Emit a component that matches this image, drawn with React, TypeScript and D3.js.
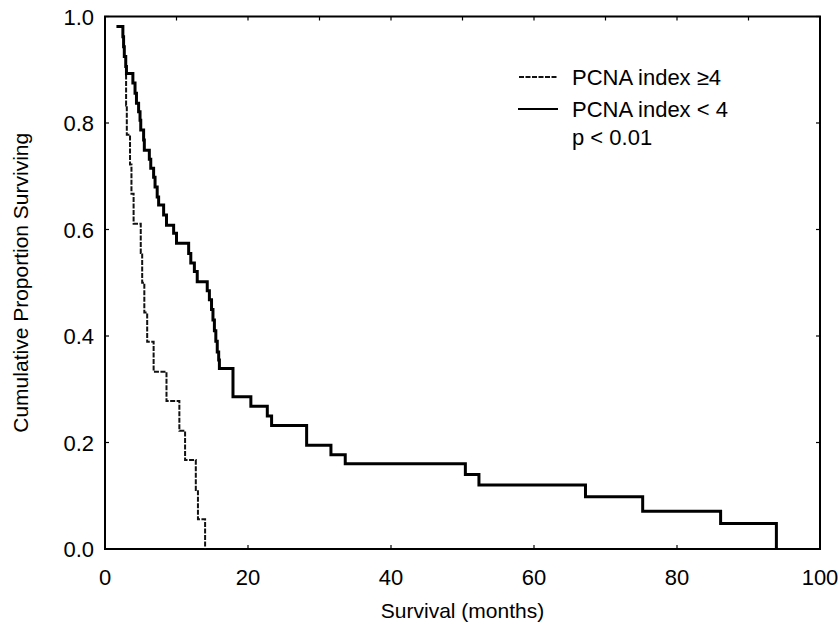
import React from "react";
import * as d3 from "d3";

const xTicks = [0, 20, 40, 60, 80, 100];
const xTopTicks = [10, 20, 30, 40, 50, 60, 70, 80, 90];
const yTicks = [0, 0.2, 0.4, 0.6, 0.8, 1.0];

// PCNA index < 4 (solid)
const solidTimes = [1.6, 2.5, 2.6, 2.7, 2.9, 3.0, 3.9, 4.2, 4.4, 4.7, 4.9, 5.0, 5.4, 5.5, 6.2, 6.4, 6.8, 7.0, 7.3, 7.5, 8.2, 8.6, 9.6, 10.0, 11.7, 12.0, 12.5, 12.9, 14.3, 14.6, 14.9, 15.1, 15.3, 15.5, 15.7, 15.9, 16.0, 17.9, 20.4, 22.7, 23.3, 28.2, 31.6, 33.6, 50.4, 52.3, 67.2, 75.2, 86.1, 93.9];
const solidSurv = [0.981, 0.962, 0.943, 0.925, 0.906, 0.893, 0.875, 0.856, 0.837, 0.821, 0.805, 0.787, 0.768, 0.749, 0.732, 0.715, 0.698, 0.68, 0.661, 0.646, 0.627, 0.608, 0.593, 0.574, 0.555, 0.537, 0.521, 0.502, 0.485, 0.468, 0.45, 0.43, 0.41, 0.39, 0.37, 0.355, 0.339, 0.286, 0.268, 0.25, 0.232, 0.195, 0.177, 0.16, 0.14, 0.12, 0.098, 0.071, 0.048, 0];

// PCNA index >= 4 (dashed)
const dashTimes = [2.8, 2.95, 3.05, 3.5, 3.7, 4.0, 5.0, 5.2, 5.5, 5.9, 6.8, 8.6, 10.4, 11.2, 12.7, 13.0, 14.0];
const dashSurv = [0.889, 0.833, 0.778, 0.722, 0.667, 0.611, 0.556, 0.5, 0.444, 0.389, 0.333, 0.278, 0.222, 0.167, 0.111, 0.056, 0];

const legendLabels = ["PCNA index \u22654", "PCNA index < 4", "p < 0.01"];

const W = 839, H = 632;
const L = 105, R = 820, T = 16.5, B = 549;
const FONT = "'Liberation Sans', Arial, Helvetica, sans-serif";

export default function App() {
  const x = d3.scaleLinear().domain([0, 100]).range([L, R]);
  const y = d3.scaleLinear().domain([0, 1]).range([B, T]);
  const line = d3
    .line<[number, number]>()
    .x((d) => x(d[0]))
    .y((d) => y(d[1]))
    .curve(d3.curveStepAfter);
  const solidPts = solidTimes.map((t, i) => [t, solidSurv[i]] as [number, number]);
  const dashPts = dashTimes.map((t, i) => [t, dashSurv[i]] as [number, number]);
  const tk = 4;
  return (
    <svg width={W} height={H} style={{ position: "absolute", left: 0, top: 0, background: "#fff" }} fontFamily={FONT}>
      <rect x={0} y={0} width={W} height={H} fill="#fff" />
      {/* frame */}
      <rect x={L} y={T} width={R - L} height={B - T} fill="none" stroke="#000" strokeWidth={2} />
      {/* ticks */}
      {xTicks.map((v) => (
        <g key={"xb" + v}>
          <line x1={x(v)} x2={x(v)} y1={B} y2={B - tk} stroke="#000" strokeWidth={1.2} />
          <text x={x(v)} y={585} textAnchor="middle" fontSize={22} fill="#000">{v}</text>
        </g>
      ))}
      {xTopTicks.map((v) => (
        <line key={"xt" + v} x1={x(v)} x2={x(v)} y1={T} y2={T + tk} stroke="#000" strokeWidth={1.2} />
      ))}
      {yTicks.map((v) => (
        <g key={"y" + v}>
          <line x1={L} x2={L + tk} y1={y(v)} y2={y(v)} stroke="#000" strokeWidth={1.2} />
          <line x1={R} x2={R - tk} y1={y(v)} y2={y(v)} stroke="#000" strokeWidth={1.2} />
          <text x={94} y={y(v) + 8} textAnchor="end" fontSize={22} fill="#000">{v.toFixed(1)}</text>
        </g>
      ))}
      {/* axis titles */}
      <text x={(L + R) / 2} y={618} textAnchor="middle" fontSize={21} fill="#000">Survival (months)</text>
      <text transform={`translate(28,${(T + B) / 2}) rotate(-90)`} textAnchor="middle" fontSize={21} fill="#000">
        Cumulative Proportion Surviving
      </text>
      {/* curves */}
      <path d={line(dashPts) || ""} fill="none" stroke="#111" strokeWidth={2} strokeDasharray="5,1.5" />
      <path d={line(solidPts) || ""} fill="none" stroke="#000" strokeWidth={3} />
      {/* legend */}
      <line x1={519} x2={558} y1={77} y2={77} stroke="#111" strokeWidth={1.8} strokeDasharray="5,1.5" />
      <line x1={518} x2={558} y1={109} y2={109} stroke="#000" strokeWidth={2} />
      <text x={572} y={85} fontSize={22} fill="#000">{legendLabels[0]}</text>
      <text x={572} y={117} fontSize={22} fill="#000">{legendLabels[1]}</text>
      <text x={572} y={145} fontSize={22} fill="#000">{legendLabels[2]}</text>
    </svg>
  );
}
